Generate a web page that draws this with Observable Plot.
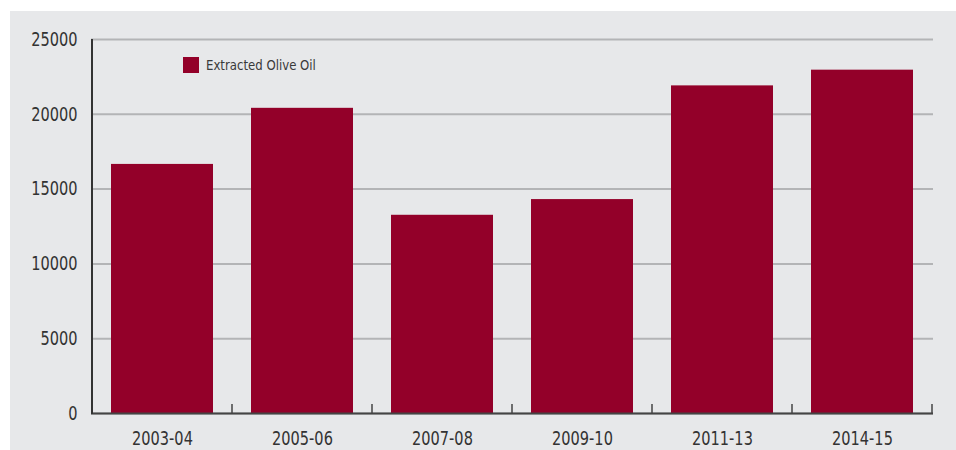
<!DOCTYPE html>
<html>
<head>
<meta charset="utf-8">
<script src="https://cdn.jsdelivr.net/npm/d3@7"></script>
<script src="https://cdn.jsdelivr.net/npm/@observablehq/plot@0.6"></script>
<style>
  html, body { margin: 0; padding: 0; background: #ffffff; }
  #wrap { position: absolute; left: 10px; top: 11px; width: 946px; height: 439px; background: #e7e8ea; }
  #legend { position: absolute; left: 173px; top: 46px; display: flex; align-items: center;
    font-family: "Liberation Sans Narrow", "DejaVu Sans Condensed", sans-serif; font-size: 14.5px; color: #3a3a3a; }
  #legend .sw { width: 16px; height: 16px; background: #930029; margin-right: 7px; }
  #legend span { display: inline-block; transform: scaleX(0.9); transform-origin: left center; }
  svg { font-family: "Liberation Sans Narrow", "DejaVu Sans Condensed", sans-serif; }
</style>
</head>
<body>
<div id="wrap">
  <div id="chart"></div>
  <div id="legend"><div class="sw"></div><span>Extracted Olive Oil</span></div>
</div>
<script>
const categories = ["2003-04", "2005-06", "2007-08", "2009-10", "2011-13", "2014-15"];
const values = [16650, 20400, 13250, 14300, 21900, 22950];
const yTicks = [0, 5000, 10000, 15000, 20000, 25000];
const seriesName = "Extracted Olive Oil";

const data = categories.map((c, i) => ({period: c, value: values[i]}));

const plot = Plot.plot({
  width: 946,
  height: 439,
  marginLeft: 81,
  marginRight: 23,
  marginTop: 28,
  marginBottom: 37,
  style: {background: "transparent", fontSize: "19.5px", color: "#333"},
  x: {domain: categories, paddingInner: 0.27, paddingOuter: 0.135, label: null},
  y: {domain: [0, 25000], label: null},
  marks: [
    Plot.gridY(yTicks, {stroke: "#b3b4b6", strokeOpacity: 1, strokeWidth: 2}),
    Plot.barY(data, {x: "period", y: "value", fill: "#930029", title: d => `${seriesName}: ${d.value}`}),
    Plot.axisY(yTicks, {tickSize: 0, tickPadding: 14, tickFormat: d => String(d), fill: "#333"}),
    Plot.axisX({tickSize: 0, tickPadding: 18, fill: "#333"}),
    Plot.ruleY([0], {stroke: "#444", strokeWidth: 2})
  ]
});
document.getElementById("chart").appendChild(plot);

// condense the axis text horizontally about its own anchor (narrow font look)
d3.select(plot).selectAll("text").each(function() {
  const el = this;
  const ax = el.getAttribute("x");
  const x = ax && /^-?[\d.]+$/.test(ax) ? +ax : 0;
  const t = el.getAttribute("transform") || "";
  el.setAttribute("transform", `${t} translate(${x},0) scale(0.83,1) translate(${-x},0)`);
});

// left axis line and band-boundary ticks, positioned via the plot's own scales
const xs = plot.scale("x");
const ys = plot.scale("y");
const svg = d3.select(plot);
const gap = xs.step - xs.bandwidth;
const bounds = categories.map(c => xs.apply(c) - gap / 2).concat([xs.apply(categories[categories.length - 1]) + xs.bandwidth + gap / 2]);
const y0 = ys.apply(0), y1 = ys.apply(25000);
svg.append("line")
  .attr("x1", bounds[0]).attr("x2", bounds[0])
  .attr("y1", y1).attr("y2", y0 + 1)
  .attr("stroke", "#333").attr("stroke-width", 2);
svg.append("g").selectAll("line").data(bounds.slice(1)).join("line")
  .attr("x1", d => d).attr("x2", d => d)
  .attr("y1", y0 - 9).attr("y2", y0)
  .attr("stroke", "#444").attr("stroke-width", 1.5);
</script>
</body>
</html>
